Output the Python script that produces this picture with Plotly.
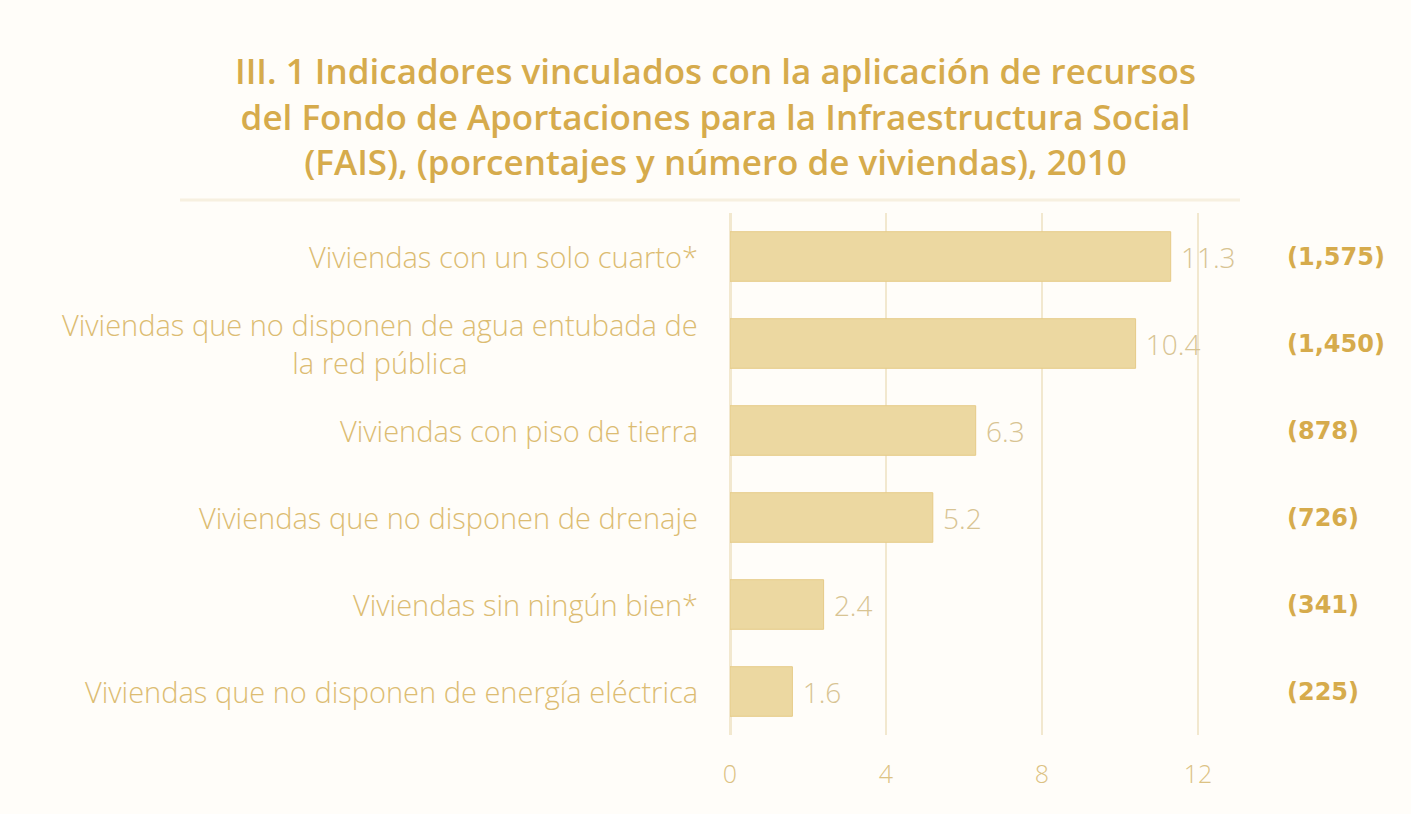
import plotly.graph_objects as go

categorias = [
    "Viviendas con un solo cuarto*",
    "Viviendas que no disponen de agua entubada de<br>la red pública",
    "Viviendas con piso de tierra",
    "Viviendas que no disponen de drenaje",
    "Viviendas sin ningún bien*",
    "Viviendas que no disponen de energía eléctrica",
]
porcentajes = [11.3, 10.4, 6.3, 5.2, 2.4, 1.6]
viviendas = ["(1,575)", "(1,450)", "(878)", "(726)", "(341)", "(225)"]

titulo = ("III. 1 Indicadores vinculados con la aplicación de recursos<br>"
          "del Fondo de Aportaciones para la Infraestructura Social<br>"
          "(FAIS), (porcentajes y número de viviendas), 2010")

oro = "#d6ab4c"
barra = "#ecd8a1"
texto = "#dcbc72"

fig = go.Figure()
fig.add_trace(go.Bar(
    y=categorias,
    x=porcentajes,
    orientation="h",
    width=0.57,
    marker=dict(color=barra, line=dict(color="#e6cb88", width=1)),
    text=[f" {v:.1f}" for v in porcentajes],
    textposition="outside",
    textfont=dict(family="Open Sans", size=28, color="#d8c493", weight=300),
    cliponaxis=False,
    showlegend=False,
))

# etiquetas de categoría a la izquierda (centradas si son de dos líneas)
for cat in categorias:
    fig.add_annotation(x=0, y=cat, xref="paper", yref="y", text=cat,
                       xanchor="right", xshift=-30, align="center",
                       showarrow=False,
                       font=dict(family="Open Sans", size=29, color=texto, weight=300))

# número de viviendas a la derecha
for cat, n in zip(categorias, viviendas):
    fig.add_annotation(x=1.095, y=cat, xref="paper", yref="y", text=n,
                       xanchor="left", showarrow=False,
                       font=dict(family="DejaVu Sans", size=24, color=oro, weight=700))

fig.add_annotation(x=(715 - 730) / 507, y=1, xref="paper", yref="paper",
                   xanchor="center", yanchor="middle", yshift=97,
                   text=titulo, showarrow=False, align="center",
                   font=dict(family="Open Sans", size=35, color=oro, weight=600))

fig.add_shape(type="line", xref="paper", yref="paper",
              x0=(180 - 730) / 507, x1=(1240 - 730) / 507, y0=1.025, y1=1.025,
              line=dict(color="#f7f0e0", width=3))

fig.update_layout(
    width=1411, height=814,
    margin=dict(l=730, r=174, t=213, b=79),
    paper_bgcolor="#fffdf9",
    plot_bgcolor="#fffdf9",
    bargap=0.43,
    xaxis=dict(range=[0, 13], tickvals=[0, 4, 8, 12], showgrid=True,
               gridcolor="#f2e8cf", gridwidth=2,
               zeroline=True, zerolinecolor="#f2e8cf", zerolinewidth=3,
               ticklabelstandoff=22,
               tickfont=dict(family="Open Sans", size=25, color="#dcc283", weight=300)),
    yaxis=dict(autorange="reversed", showticklabels=False, showgrid=False,
               zeroline=False),
)

fig.write_html("out.html", config={"displayModeBar": False},
               post_script="document.body.style.margin='0';")
